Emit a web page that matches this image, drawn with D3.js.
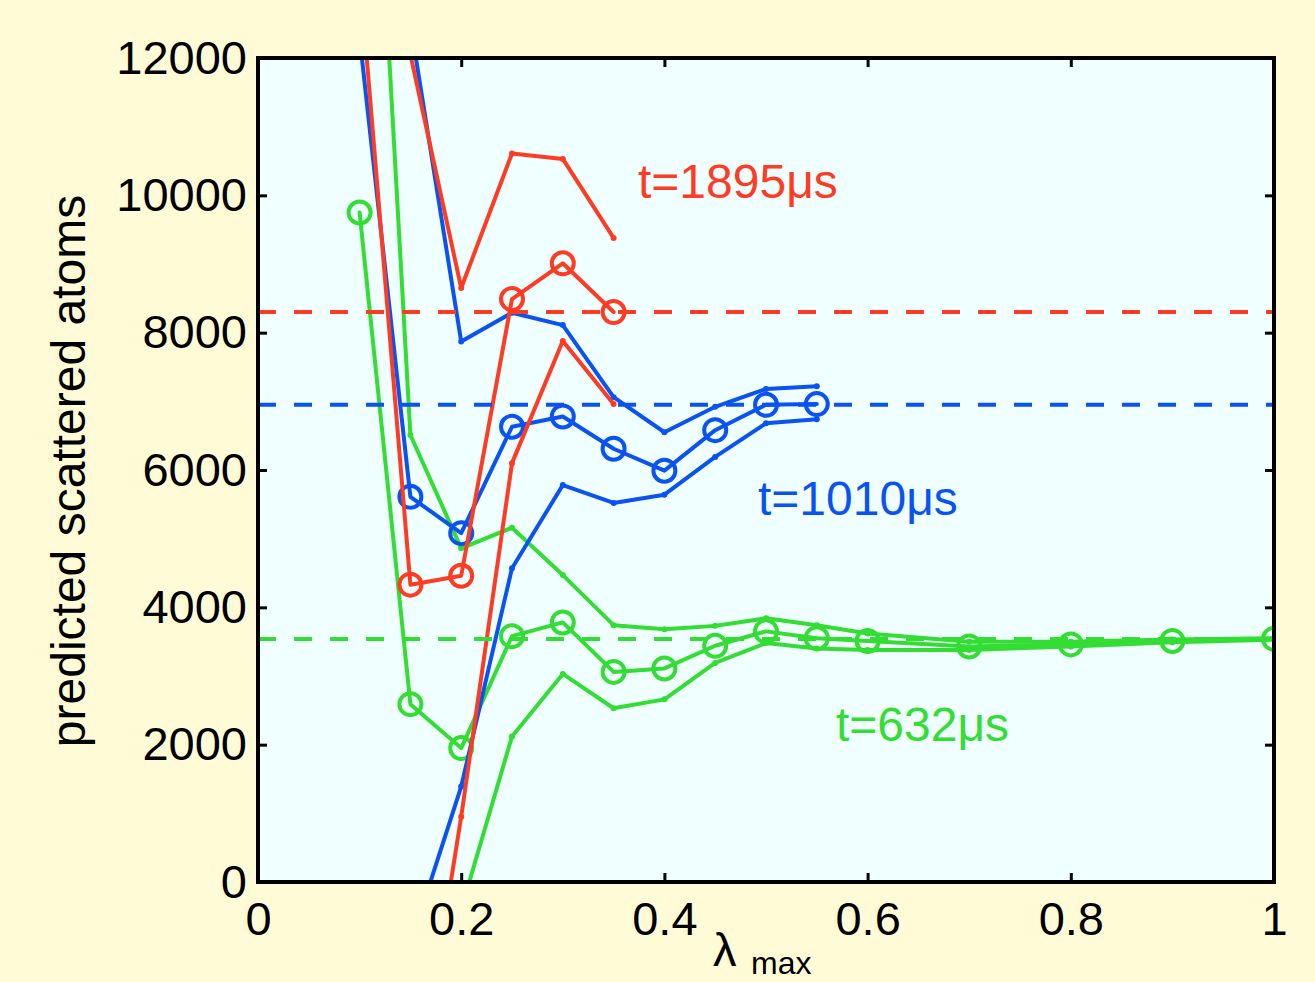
<!DOCTYPE html>
<html>
<head>
<meta charset="utf-8">
<script src="https://cdn.jsdelivr.net/npm/d3@7"></script>
<style>
  html, body { margin: 0; padding: 0; background: #fffbd7; }
  svg { display: block; }
  text { font-family: "Liberation Sans", Arial, Helvetica, sans-serif; }
</style>
</head>
<body>
<svg id="chart" width="1315" height="982"></svg>
<script>
// λ_max grid (x values)
const lambdaAll = [0.1, 0.15, 0.2, 0.25, 0.3, 0.35, 0.4, 0.45, 0.5, 0.55, 0.6, 0.7, 0.8, 0.9, 1.0];

// t = 1895 µs (red)
const redLambdaMid = [0.1, 0.15, 0.2, 0.25, 0.3, 0.35];
const redMid = [13250, 4330, 4460, 8490, 9010, 8300];
const redLambdaBand = [0.15, 0.2, 0.25, 0.3, 0.35];
const redUpper = [12050, 8650, 10610, 10530, 9380];
const redLower = [-3700, 950, 6100, 7880, 6960];
const redLevel = 8300;

// t = 1010 µs (blue)
const blueLambdaMid = [0.1, 0.15, 0.2, 0.25, 0.3, 0.35, 0.4, 0.45, 0.5, 0.55];
const blueMid = [12300, 5610, 5080, 6630, 6780, 6310, 5990, 6580, 6950, 6960];
const blueLambdaBand = [0.15, 0.2, 0.25, 0.3, 0.35, 0.4, 0.45, 0.5, 0.55];
const blueUpper = [12500, 7870, 8290, 8110, 7060, 6550, 6920, 7180, 7220];
const blueLower = [-900, 1390, 4570, 5780, 5520, 5640, 6190, 6680, 6740];
const blueLevel = 6950;

// t = 632 µs (green)
const greenLambdaMid = lambdaAll;
const greenMid = [9750, 2590, 1950, 3580, 3780, 3060, 3110, 3440, 3650, 3550, 3510, 3430, 3460, 3510, 3540];
const greenLambdaUpper = lambdaAll;
const greenUpper = [19700, 6510, 4860, 5160, 4470, 3740, 3680, 3730, 3840, 3740, 3620, 3500, 3500, 3530, 3550];
const greenLambdaLower = [0.2, 0.25, 0.3, 0.35, 0.4, 0.45, 0.5, 0.55, 0.6, 0.7, 0.8, 0.9, 1.0];
const greenLower = [-400, 2120, 3030, 2530, 2660, 3190, 3480, 3400, 3380, 3380, 3430, 3490, 3530];
const greenLevel = 3540;

const xTicks = [0, 0.2, 0.4, 0.6, 0.8, 1];
const xTickLabels = ["0", "0.2", "0.4", "0.6", "0.8", "1"];
const yTicks = [0, 2000, 4000, 6000, 8000, 10000, 12000];
const yTickLabels = ["0", "2000", "4000", "6000", "8000", "10000", "12000"];

const RED = "#ff3b24", BLUE = "#0a52f2", GREEN = "#33dd33";

const svg = d3.select("#chart");
const mLeft = 258, mRight = 1274, mTop = 58, mBottom = 882;

const x = d3.scaleLinear().domain([0, 1]).range([mLeft, mRight]);
const y = d3.scaleLinear().domain([0, 12000]).range([mBottom, mTop]);

svg.append("rect").attr("width", 1315).attr("height", 982).attr("fill", "#fffbd7");

svg.append("defs").append("clipPath").attr("id", "plotClip")
  .append("rect").attr("x", mLeft).attr("y", mTop).attr("width", mRight - mLeft).attr("height", mBottom - mTop);

svg.append("rect").attr("x", mLeft).attr("y", mTop).attr("width", mRight - mLeft).attr("height", mBottom - mTop)
  .attr("fill", "#f0ffff");

const plot = svg.append("g").attr("clip-path", "url(#plotClip)");

const line = d3.line().x(d => x(d[0])).y(d => y(d[1]));

function drawSeries(lx, vals, color, markers) {
  const pts = lx.map((l, i) => [l, vals[i]]);
  plot.append("path").datum(pts).attr("d", line)
    .attr("fill", "none").attr("stroke", color).attr("stroke-width", 4)
    .attr("stroke-linejoin", "round").attr("stroke-linecap", "round");
  if (markers === "o") {
    plot.selectAll(null).data(pts).enter().append("circle")
      .attr("cx", d => x(d[0])).attr("cy", d => y(d[1])).attr("r", 11)
      .attr("fill", "none").attr("stroke", color).attr("stroke-width", 4);
  } else {
    plot.selectAll(null).data(pts).enter().append("circle")
      .attr("cx", d => x(d[0])).attr("cy", d => y(d[1])).attr("r", 3)
      .attr("fill", color);
  }
}

// green series
drawSeries(greenLambdaUpper, greenUpper, GREEN, ".");
drawSeries(greenLambdaLower, greenLower, GREEN, ".");
drawSeries(greenLambdaMid, greenMid, GREEN, "o");
// blue series
drawSeries(blueLambdaBand, blueUpper, BLUE, ".");
drawSeries(blueLambdaBand, blueLower, BLUE, ".");
drawSeries(blueLambdaMid, blueMid, BLUE, "o");
// red series
drawSeries(redLambdaBand, redUpper, RED, ".");
drawSeries(redLambdaBand, redLower, RED, ".");
drawSeries(redLambdaMid, redMid, RED, "o");

// long-time levels (dashed)
[[redLevel, RED], [blueLevel, BLUE], [greenLevel, GREEN]].forEach(([v, c]) => {
  plot.append("line").attr("x1", x(0)).attr("x2", x(1)).attr("y1", y(v)).attr("y2", y(v))
    .attr("stroke", c).attr("stroke-width", 4).attr("stroke-dasharray", "18 18");
});

// axes with inward ticks on all four sides
const fontSize = 47;
const axL = svg.append("g").attr("transform", `translate(${mLeft},0)`)
  .call(d3.axisLeft(y).tickValues(yTicks).tickFormat((d, i) => yTickLabels[i]).tickSize(-9).tickSizeOuter(0).tickPadding(11));
const axR = svg.append("g").attr("transform", `translate(${mRight},0)`)
  .call(d3.axisRight(y).tickValues(yTicks).tickFormat("").tickSize(-9).tickSizeOuter(0));
const axB = svg.append("g").attr("transform", `translate(0,${mBottom})`)
  .call(d3.axisBottom(x).tickValues(xTicks).tickFormat((d, i) => xTickLabels[i]).tickSize(-9).tickSizeOuter(0).tickPadding(20));
const axT = svg.append("g").attr("transform", `translate(0,${mTop})`)
  .call(d3.axisTop(x).tickValues(xTicks).tickFormat("").tickSize(-9).tickSizeOuter(0));

[axL, axR, axB, axT].forEach(g => {
  g.select(".domain").remove();
  g.selectAll(".tick line").attr("stroke", "#000").attr("stroke-width", 3);
  g.selectAll(".tick text").attr("fill", "#000").attr("font-size", fontSize)
    .attr("font-family", "'Liberation Sans', Arial, sans-serif");
});

// frame
svg.append("rect").attr("x", mLeft).attr("y", mTop).attr("width", mRight - mLeft).attr("height", mBottom - mTop)
  .attr("fill", "none").attr("stroke", "#000").attr("stroke-width", 4);

// axis titles
svg.append("text").attr("transform", "translate(85,471) rotate(-90)")
  .attr("text-anchor", "middle").attr("font-size", 48).attr("fill", "#000")
  .text("predicted scattered atoms");

const xl = svg.append("text").attr("x", 713).attr("y", 966).attr("font-size", 47).attr("fill", "#000");
xl.append("tspan").text("λ");
xl.append("tspan").attr("x", 751).attr("y", 974).attr("font-size", 32).text("max");

// series labels
svg.append("text").attr("x", 638).attr("y", 198).attr("font-size", 48).attr("fill", RED).text("t=1895μs");
svg.append("text").attr("x", 758).attr("y", 515).attr("font-size", 48).attr("fill", BLUE).text("t=1010μs");
svg.append("text").attr("x", 836).attr("y", 741).attr("font-size", 48).attr("fill", GREEN).text("t=632μs");
</script>
</body>
</html>
